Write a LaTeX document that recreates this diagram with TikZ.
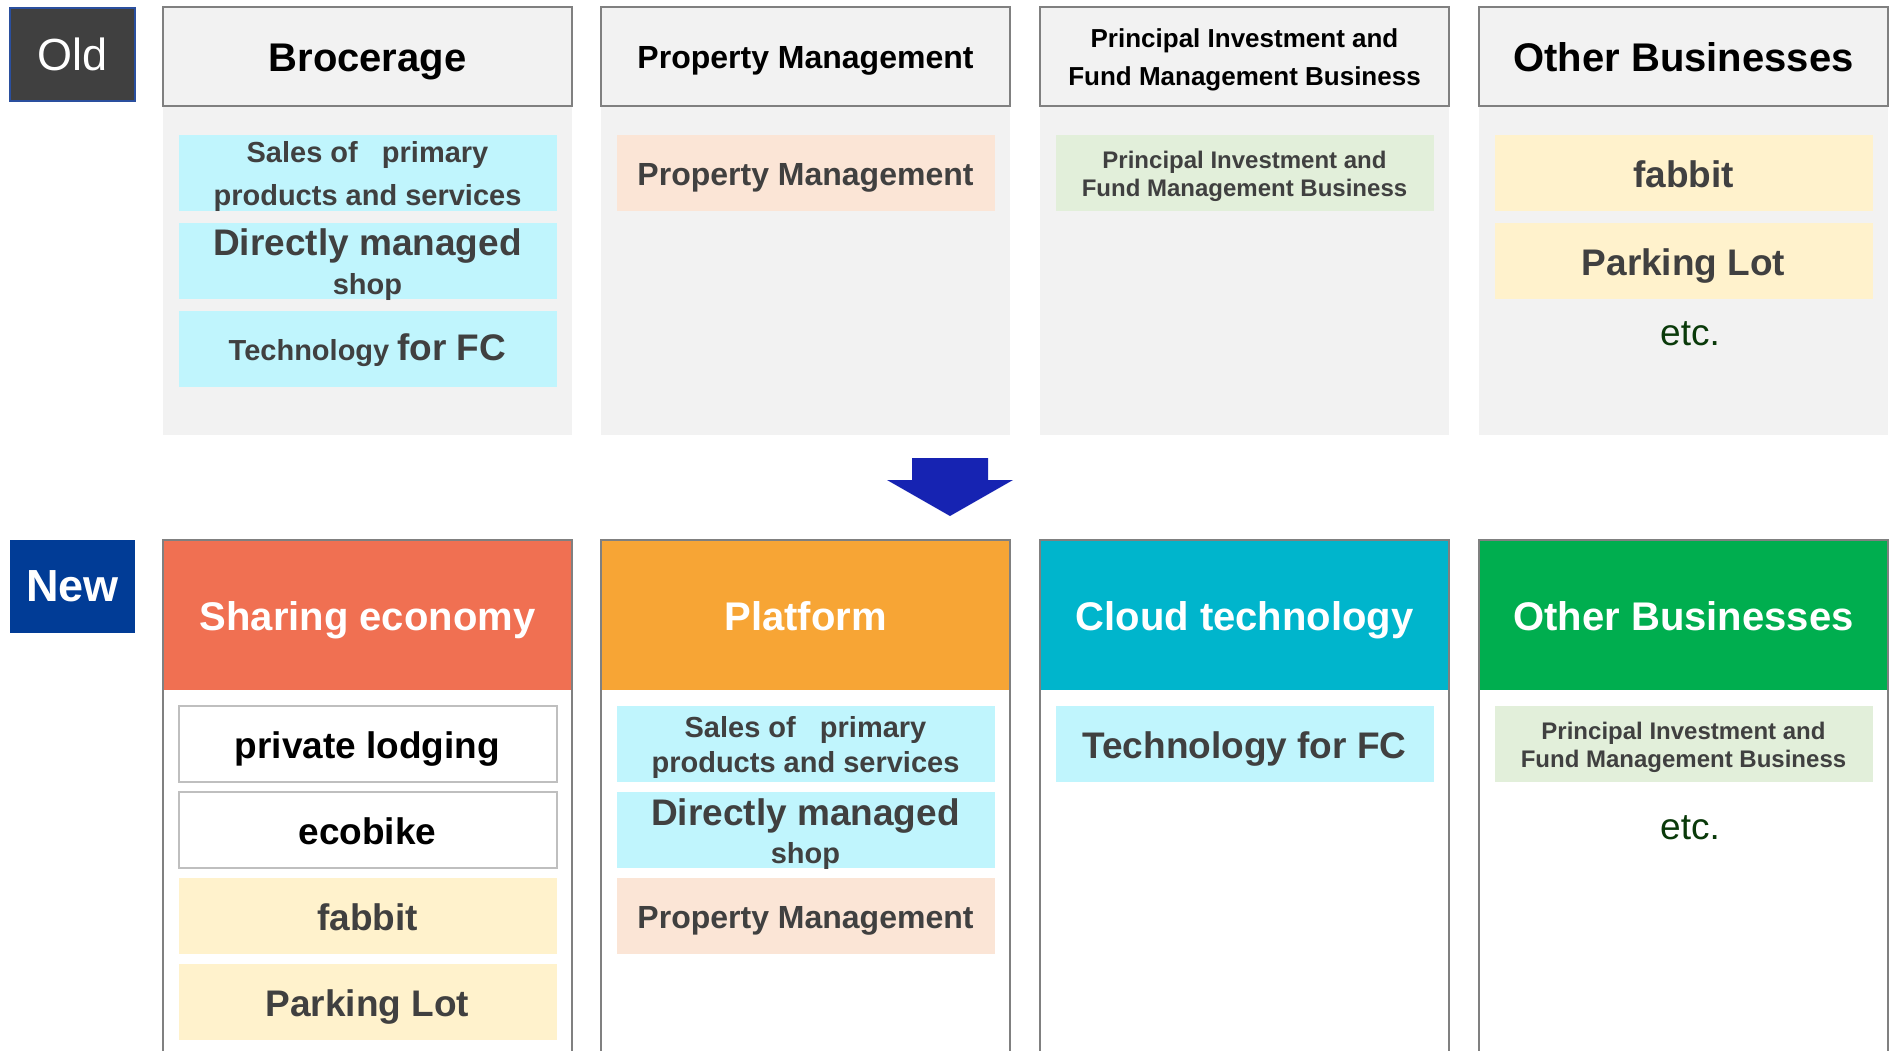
\documentclass[tikz,border=0pt]{standalone}
\usepackage{fontspec}
\setmainfont{Liberation Sans}
\usetikzlibrary{positioning}
\definecolor{darkbox}{HTML}{404040}
\definecolor{oldblue}{HTML}{2A4F9E}
\definecolor{newblue}{HTML}{013C96}
\definecolor{arrowblue}{HTML}{1623B2}
\definecolor{panel}{HTML}{F2F2F2}
\definecolor{rule}{HTML}{808080}
\definecolor{lightrule}{HTML}{BFBFBF}
\definecolor{itemtext}{HTML}{404040}
\definecolor{cyanitem}{HTML}{C0F5FD}
\definecolor{peach}{HTML}{FBE5D6}
\definecolor{sage}{HTML}{E2EFDA}
\definecolor{cream}{HTML}{FFF2CC}
\definecolor{sharing}{HTML}{F07052}
\definecolor{platform}{HTML}{F7A535}
\definecolor{cloud}{HTML}{00B5CC}
\definecolor{other}{HTML}{00AE4F}
\definecolor{etcgreen}{HTML}{0A3A0A}
\newcommand{\fsz}[2]{\fontsize{#1pt}{#2pt}\selectfont}
% struts so that text sits on the line box, not on its glyphs
\newcommand{\topstrut}{\rule{0pt}{0.98em}}
\newcommand{\botstrut}{\rule[-0.21em]{0pt}{0.21em}}

\begin{document}
\begin{tikzpicture}[x=1pt,y=-1pt,
  node distance=10pt,
  tag/.style={anchor=north west,minimum width=125pt,minimum height=93pt,
    inner sep=0pt,outer sep=0pt,text=white},
  boxed/.style={execute at begin node=\topstrut,execute at end node=\botstrut},
  oldhead/.style={boxed,anchor=north west,draw=rule,line width=2pt,fill=panel,
    minimum width=409pt,minimum height=99pt,inner sep=0pt,outer sep=0pt,
    align=center,font=\bfseries\fsz{40}{48}},
  newhead/.style={boxed,anchor=north west,minimum width=409pt,minimum height=150pt,
    inner sep=0pt,outer sep=0pt,text=white,font=\bfseries\fsz{40}{48}},
  item/.style={boxed,minimum width=378pt,minimum height=76pt,inner sep=0pt,
    outer sep=0pt,align=center,text=itemtext,font=\bfseries\fsz{37}{40}},
  tight/.style={inner ysep=-5pt},
  cyanbox/.style={item,fill=cyanitem},
  peachbox/.style={item,fill=peach,font=\bfseries\fsz{32}{38}},
  sagebox/.style={item,fill=sage,font=\bfseries\fsz{24}{28}},
  creambox/.style={item,fill=cream},
  plainbox/.style={item,fill=white,draw=lightrule,line width=2pt,text=black},
  etc/.style={text=etcgreen,font=\fsz{37}{40}},
  frame/.style={draw=rule,line width=1.5pt}
]
\useasboundingbox (0,0) rectangle (1890,1050);

% old segments
\foreach \x in {163,601,1040,1479}
  \fill[panel] (\x,106) rectangle ++(409,329);
\node[tag,fill=darkbox,draw=oldblue,line width=2pt,font=\fsz{45}{50}] (oldtag) at (10,8) {Old};
\node[oldhead] (brokhead) at (163,7) {Brocerage};
\node[oldhead,font=\bfseries\fsz{32}{38}] (prophead) at (601,7) {Property Management};
\node[oldhead,font=\bfseries\fsz{26}{38}] (invhead) at (1040,7) {\topstrut Principal Investment and\\Fund Management Business\botstrut};
\node[oldhead] (othhead) at (1479,7) {Other Businesses};

\node[cyanbox,tight,below=29pt of brokhead,font=\bfseries\fsz{29}{43}] (oldsales) {\topstrut Sales of\ \ \ primary\\products and services\botstrut};
\node[cyanbox,tight,below=12pt of oldsales] (oldshop) {\topstrut Directly managed\\[-1pt]{\fsz{29}{34}shop}\botstrut};
\node[cyanbox,below=12pt of oldshop,font=\bfseries\fsz{29}{40}] (oldtech) {Technology {\fsz{37}{40}for FC}};
\node[peachbox,below=29pt of prophead] (oldprop) {Property Management};
\node[sagebox,below=29pt of invhead] (oldinv) {\topstrut Principal Investment and\\Fund Management Business\botstrut};
\node[creambox,below=29pt of othhead] (oldfab) {fabbit};
\node[creambox,below=12pt of oldfab] (oldpark) {Parking Lot};
\node[etc] (oldetc) at (1690,334) {etc.};

% change arrow
\fill[arrowblue] (912,458) -- (988,458) -- (988,480) -- (1013,480)
  -- (950,516) -- (887,480) -- (912,480) -- cycle;

% new segments
\node[tag,fill=newblue,font=\bfseries\fsz{45}{50}] (newtag) at (10,540) {New};
\node[newhead,fill=sharing] (sharehead) at (163,540) {Sharing economy};
\node[newhead,fill=platform] (plathead) at (601,540) {Platform};
\node[newhead,fill=cloud] (cloudhead) at (1040,540) {Cloud technology};
\node[newhead,fill=other] (newothhead) at (1479,540) {Other Businesses};
\foreach \x in {163,601,1040,1479}
  \draw[frame] (\x,540) rectangle ++(409,520);

\node[plainbox,below=16pt of sharehead] (lodging) {private lodging};
\node[plainbox,below=10pt of lodging] (ecobike) {ecobike};
\node[creambox,below=10pt of ecobike] (newfab) {fabbit};
\node[creambox,below=10pt of newfab] (newpark) {Parking Lot};

\node[cyanbox,below=16pt of plathead,font=\bfseries\fsz{29}{35}] (newsales) {\topstrut Sales of\ \ \ primary\\products and services\botstrut};
\node[cyanbox,tight,below=10pt of newsales] (newshop) {\topstrut Directly managed\\[-2pt]{\fsz{29}{34}shop}\botstrut};
\node[peachbox,below=10pt of newshop] (newprop) {Property Management};

\node[cyanbox,below=16pt of cloudhead] (newtech) {Technology for FC};

\node[sagebox,below=16pt of newothhead] (newinv) {\topstrut Principal Investment and\\Fund Management Business\botstrut};
\node[etc] (newetc) at (1690,828) {etc.};
\end{tikzpicture}
\end{document}
